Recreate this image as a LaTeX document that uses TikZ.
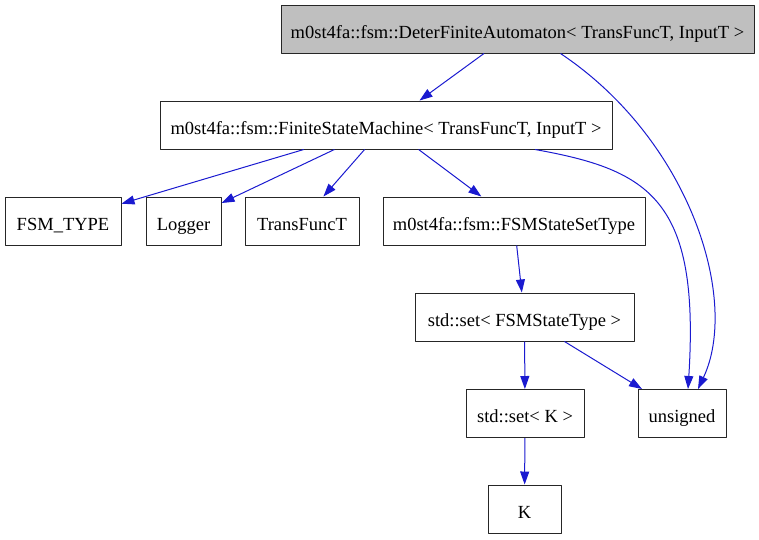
\documentclass[tikz,border=0pt]{standalone}
\usepackage{fontspec}
\setmainfont{Liberation Serif}
\usetikzlibrary{arrows.meta}
\definecolor{edgeblue}{RGB}{26,26,208}
\definecolor{boxgray}{RGB}{191,191,191}
\begin{document}
\begin{tikzpicture}[x=1pt, y=-1pt, line join=round,
    cls/.style={draw=black!85, line width=1pt, minimum height=48pt, inner sep=0pt,
      text height=18pt, text depth=0pt, font=\fontsize{18.5}{22}\selectfont},
    dep/.style={-{Triangle[length=13pt, width=9pt]}, draw=edgeblue, line width=1pt}]
  \useasboundingbox (0,0) rectangle (759,539);

  % Class boxes
  \node[cls, fill=boxgray, minimum width=473pt] (dfa) at (517.5,29)
    {m0st4fa::fsm::DeterFiniteAutomaton< TransFuncT, InputT >};
  \node[cls, minimum width=452pt] (fsm) at (386,125)
    {m0st4fa::fsm::FiniteStateMachine< TransFuncT, InputT >};
  \node[cls, minimum width=116pt] (fsmtype) at (63,221) {FSM\_TYPE};
  \node[cls, minimum width=75pt] (logger) at (183.5,221) {Logger};
  \node[cls, minimum width=114pt] (transfunc) at (302,221) {TransFuncT};
  \node[cls, minimum width=262pt] (stateset) at (514,221) {m0st4fa::fsm::FSMStateSetType};
  \node[cls, minimum width=219pt] (stdset) at (524.5,317) {std::set< FSMStateType >};
  \node[cls, minimum width=118pt] (setk) at (525,413.5) {std::set< K >};
  \node[cls, minimum width=88pt] (unsigned) at (682,413.5) {unsigned};
  \node[cls, minimum width=73pt] (k) at (524.5,509) {K};

  % Dependencies
  \draw[dep] (dfa) -- (fsm);
  \draw[dep] ([xshift=43pt]dfa.south) .. controls (690,140) and (740,300) .. ([xshift=16pt]unsigned.north);
  \draw[dep] (fsm) -- (fsmtype);
  \draw[dep] (fsm) -- (logger);
  \draw[dep] (fsm) -- (transfunc);
  \draw[dep] (fsm) -- (stateset);
  \draw[dep] ([xshift=149pt]fsm.south) .. controls (650,170) and (700,200) .. ([xshift=6pt]unsigned.north);
  \draw[dep] (stateset) -- (stdset);
  \draw[dep] (stdset) -- (setk);
  \draw[dep] (stdset) -- (unsigned);
  \draw[dep] (setk) -- (k);
\end{tikzpicture}
\end{document}
